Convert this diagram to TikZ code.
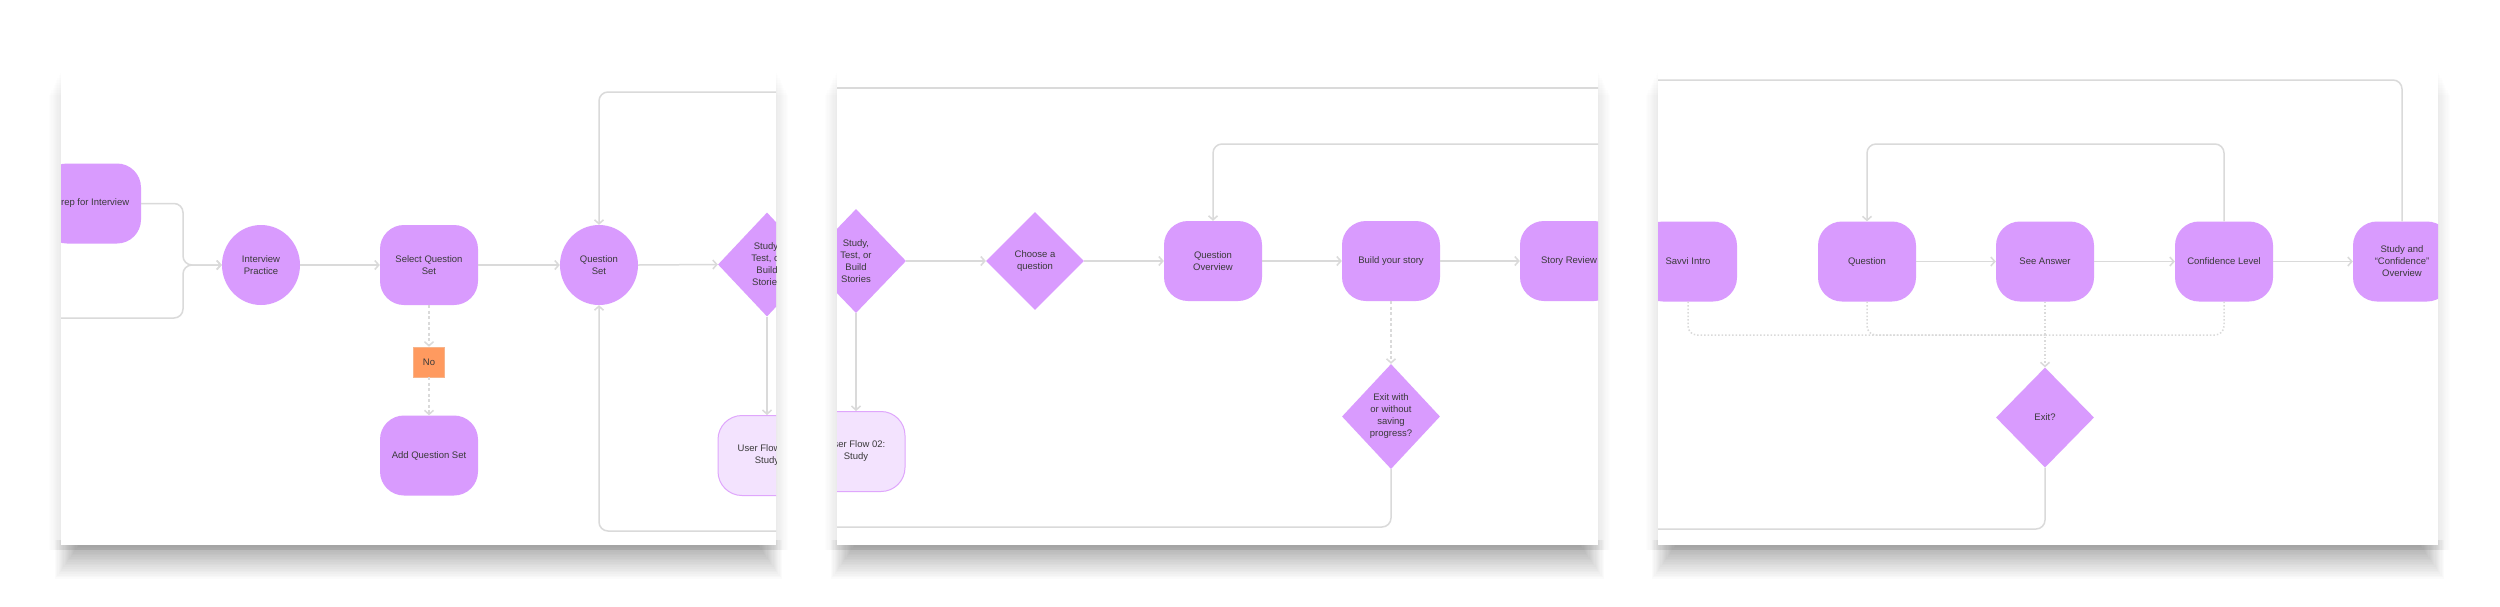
\documentclass[tikz,border=0pt]{standalone}
\usepackage{fontspec}
\setmainfont{Liberation Sans}
\usetikzlibrary{shapes.geometric,arrows.meta}
\definecolor{nodepurple}{HTML}{D99BFE}
\definecolor{flowfill}{HTML}{F3E3FE}
\definecolor{flowdraw}{HTML}{DFA6FC}
\definecolor{noorange}{HTML}{FF9A5F}
\definecolor{noborder}{HTML}{F7B48A}
\definecolor{linegray}{HTML}{DADADA}
\definecolor{ink}{HTML}{3A3A3A}
\begin{document}
\begin{tikzpicture}[x=1pt,y=-1pt,
  lbl/.style={font=\fontsize{9.5pt}{12pt}\selectfont, text=ink, align=center, inner sep=0pt},
  rbox/.style={lbl, rectangle, rounded corners=24pt, fill=nodepurple, minimum width=98pt, minimum height=80pt},
  oval/.style={lbl, ellipse, fill=nodepurple, minimum width=78pt, minimum height=80pt},
  dia/.style={lbl, diamond, fill=nodepurple},
  flowbox/.style={rbox, fill=flowfill, draw=flowdraw, line width=1pt},
  nobox/.style={lbl, rectangle, fill=noorange, draw=noborder, line width=0.6pt, minimum width=31pt, minimum height=30pt},
  conn/.style={draw=linegray, line width=1.5pt, rounded corners=9pt},
  tip/.style={-{Straight Barb[length=4pt,width=9pt]}},
  arr/.style={conn, tip},
  dsh/.style={conn, dash pattern=on 3pt off 2.5pt},
  dotl/.style={conn, dash pattern=on 1.5pt off 2pt}
]
\useasboundingbox (0,0) rectangle (2500,606);
\fill[white] (0,0) rectangle (2500,606);

% panel shadows and sheets
\foreach \xa/\xb in {61/776, 837/1598, 1658/2438}{
  % soft side shadow
  \foreach \i in {0,...,9}{
    \fill[black, opacity=0.009] ({\xa-12+1.2*\i},{95-2.5*\i}) rectangle ({\xb+12-1.2*\i},550);
  }
  % bottom drop shadow
  \foreach \i in {0,...,19}{
    \fill[black, opacity=0.014] ({\xa-6+1.2*\i},540) rectangle ({\xb+6-1.2*\i},{579-1.7*\i});
  }
  \fill[white] (\xa,69) rectangle (\xb,545);
}

% ---------------- Panel 1 ----------------
\begin{scope}
\clip (61,69) rectangle (776,545);
\node[rbox] (prep) at (92,203.5) {Prep for Interview};
\node[oval] (ip) at (261,265) {Interview\\Practice};
\node[rbox] (sqs) at (429,265) {Select Question\\Set};
\node[nobox] (no) at (429,362) {No};
\node[rbox] (aqs) at (429,455.5) {Add Question Set};
\node[oval] (qset) at (599,265) {Question\\Set};
\node[dia, minimum width=98pt, minimum height=104pt] (sd1) at (767,264.5) {Study,\\Test, or\\Build\\Stories};
\node[flowbox] (uf1) at (767,455.5) {User Flow 02:\\Study};
\coordinate (mrg) at (183,265);
\coordinate (bl1) at (50,318);
\coordinate (t1) at (790,92);
\coordinate (b1) at (790,531);
\draw[arr] (prep.east) -| (mrg) -- (ip.west);
\draw[arr] (bl1) -| (mrg) -- (ip.west);
\draw[arr] (ip) -- (sqs);
\draw[arr] (sqs) -- (qset);
\draw[arr] (qset.east) -- (sd1.west);
\draw[dsh, tip] (sqs) -- (no);
\draw[dsh, tip] (no) -- (aqs);
\draw[arr] (sd1.south) -- (uf1.north);
\draw[arr] (t1) -| (qset.north);
\draw[arr] (b1) -| (qset.south);
\end{scope}

% ---------------- Panel 2 ----------------
\begin{scope}
\clip (837,69) rectangle (1598,545);
\node[dia, minimum width=100pt, minimum height=104pt] (sd2) at (856,261) {Study,\\Test, or\\Build\\Stories};
\node[flowbox] (uf2) at (856,451.5) {User Flow 02:\\Study};
\node[dia, minimum width=98pt, minimum height=98pt] (ch) at (1035,261) {Choose a\\question};
\node[rbox] (qo) at (1213,261) {Question\\Overview};
\node[rbox] (bys) at (1391,261) {Build your story};
\node[rbox] (sr) at (1569,261) {Story Review};
\node[dia, minimum width=98pt, minimum height=105pt] (ex2) at (1391,416.5) {Exit with\\or without\\saving\\progress?};
\coordinate (tl2a) at (825,88);
\coordinate (tl2b) at (1610,88);
\coordinate (t2) at (1610,144);
\coordinate (b2) at (825,527);
\draw[conn] (tl2a) -- (tl2b);
\draw[arr] (t2) -| (qo.north);
\draw[arr] (sd2.east) -- (ch.west);
\draw[arr] (ch.east) -- (qo.west);
\draw[arr] (qo) -- (bys);
\draw[arr] (bys) -- (sr);
\draw[arr] (sd2.south) -- (uf2.north);
\draw[dsh, tip] (bys.south) -- (ex2.north);
\draw[conn] (ex2.south) |- (b2);
\end{scope}

% ---------------- Panel 3 ----------------
\begin{scope}
\clip (1658,69) rectangle (2438,545);
\node[rbox] (sv) at (1688,261.5) {Savvi Intro};
\node[rbox] (q3) at (1867,261.5) {Question};
\node[rbox] (sa) at (2045,261.5) {See Answer};
\node[rbox] (cl) at (2224,261.5) {Confidence Level};
\node[rbox] (sco) at (2402,261.5) {Study and\\“Confidence”\\Overview};
\node[dia, minimum width=98pt, minimum height=100pt] (ex3) at (2045,417.5) {Exit?};
\coordinate (t3) at (1645,80);
\coordinate (lp3) at (2000,144);
\coordinate (m3) at (2045,335);
\coordinate (b3) at (1645,529);
\draw[conn] (t3) -| (sco.north);
\draw[arr] (cl.north) -- (cl.north |- lp3) -| (q3.north);
\draw[arr] (q3) -- (sa);
\draw[arr] (sa) -- (cl);
\draw[arr] (cl) -- (sco);
\draw[dotl] (sv.south) |- (m3);
\draw[dotl] (q3.south) |- (m3);
\draw[dotl] (cl.south) |- (m3);
\draw[dotl, tip] (sa.south) -- (ex3.north);
\draw[conn] (ex3.south) |- (b3);
\end{scope}
\end{tikzpicture}
\end{document}
